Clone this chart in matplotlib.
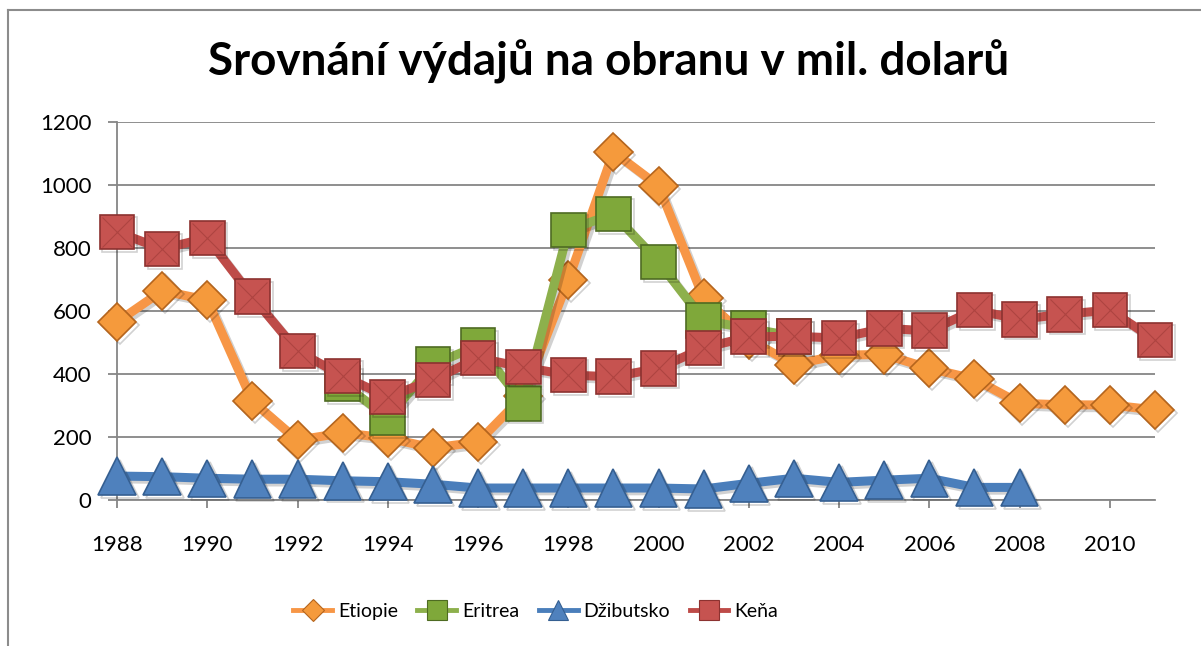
import numpy as np
import matplotlib.pyplot as plt
import matplotlib.patheffects as pe
from matplotlib.lines import Line2D

plt.rcParams['font.family'] = ['Lato', 'DejaVu Sans']

# Data (mil. USD)
years = list(range(1988, 2012))
nan = np.nan
etiopie = [565, 664, 635, 314, 190, 213, 197, 165, 184, 330, 698, 1105,
           997, 640, 510, 430, 460, 462, 418, 384, 307, 302, 302, 286]
eritrea = [nan, nan, nan, nan, nan, 370, 262, 430, 490, 307, 857, 908,
           756, 570, 545, 520, nan, nan, nan, nan, nan, nan, nan, nan]
dzibutsko = [76, 74, 69, 66, 66, 61, 58, 50, 38, 38, 38, 38,
             38, 35, 53, 69, 56, 63, 69, 40, 40, nan, nan, nan]
kena = [851, 797, 832, 645, 473, 394, 327, 381, 451, 422, 397, 391,
        418, 483, 518, 520, 514, 545, 537, 603, 574, 590, 603, 508]

names = ['Etiopie', 'Eritrea', 'Džibutsko', 'Keňa']
line_colors = ['#F79646', '#8DB04C', '#4A7EBB', '#BE4B48']
face_colors = ['#F59A3C', '#7FA83A', '#4F81BD', '#C65350']
edge_colors = ['#B5651D', '#4E6B22', '#355F91', '#8C3230']
markers = ['D', 's', '^', 's']
msizes = [19.5, 25, 27, 25]

fig = plt.figure(figsize=(12.01, 6.46), dpi=100)
ax = fig.add_axes([0.0974, 0.226, 0.8643, 0.5851])

shadow = [pe.SimpleLineShadow(offset=(2, -2), alpha=0.18), pe.Normal()]
series = [etiopie, eritrea, dzibutsko, kena]
handles = []
for i, vals in enumerate(series):
    ax.plot(years, vals, color=line_colors[i], lw=6.5, marker=markers[i],
            ms=msizes[i], mfc=face_colors[i], mec=edge_colors[i], mew=1.2,
            zorder=3 + i, path_effects=shadow, solid_joinstyle='round',
            clip_on=False)
    handles.append(Line2D([], [], color=line_colors[i], lw=3.5, marker=markers[i],
                          ms=msizes[i] * 0.55, mfc=face_colors[i],
                          mec=edge_colors[i], mew=0.8))
# pyramid look on the Keňa squares
ax.plot(years, kena, ls='none', marker='x', ms=22, mec='#9E3936', mew=0.8,
        alpha=0.6, zorder=7, clip_on=False)

ax.set_xlim(1988, 2011)
ax.set_ylim(0, 1200)
ax.set_yticks(range(0, 1201, 200))
ax.set_xticks(range(1988, 2011, 2))

grey = '#868686'
ax.grid(axis='y', color=grey, lw=1.3)
ax.set_axisbelow(True)
for s in ['top', 'right']:
    ax.spines[s].set_visible(False)
for s in ['left', 'bottom']:
    ax.spines[s].set_color(grey)
    ax.spines[s].set_linewidth(1.3)
ax.tick_params(axis='y', length=6.5, width=1.3, color=grey, labelsize=16, pad=12)
ax.tick_params(axis='x', length=6, width=1.3, color=grey, labelsize=16, pad=19)

fig.text(0.507, 0.904, 'Srovnání výdajů na obranu v mil. dolarů',
         ha='center', va='center', fontsize=33, fontweight='bold')

fig.legend(handles, names, loc='center', bbox_to_anchor=(0.446, 0.054),
           ncol=4, frameon=False, fontsize=14, handlelength=2.0,
           handletextpad=0.3, columnspacing=1.0)

# chart area border
fig.add_artist(Line2D([7.5 / 1201, 7.5 / 1201], [0, 1 - 10 / 646],
                      color='#8C8C8C', lw=1.5))
fig.add_artist(Line2D([7.5 / 1201, 1], [1 - 10 / 646, 1 - 10 / 646],
                      color='#8C8C8C', lw=1.5))

plt.savefig('out.png', dpi=100)
